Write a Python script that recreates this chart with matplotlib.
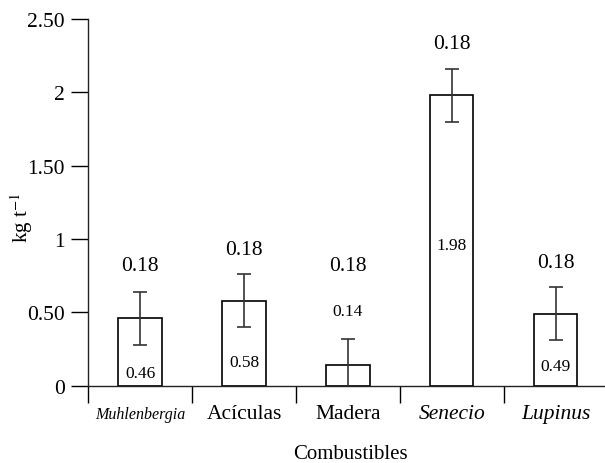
import matplotlib
matplotlib.use("Agg")
import matplotlib.pyplot as plt

plt.rcParams["font.family"] = ["Liberation Serif", "DejaVu Serif"]
plt.rcParams["mathtext.fontset"] = "stix"

# Fuel categories and emission factors (kg t^-1) with their error
categories = ["Muhlenbergia", "Acículas", "Madera", "Senecio", "Lupinus"]
italic = [True, False, False, True, True]
values = [0.46, 0.58, 0.14, 1.98, 0.49]
errors = [0.18, 0.18, 0.18, 0.18, 0.18]
yticks = [0, 0.5, 1, 1.5, 2, 2.5]
ytick_labels = ["0", "0.50", "1", "1.50", "2", "2.50"]

# vertical placement of the value annotations
value_label_y = [0.087, 0.16, 0.51, 0.96, 0.137]

fig = plt.figure(figsize=(6.05, 4.64), dpi=100)
ax = fig.add_axes([0.146, 0.1666, 0.858, 0.7904])

x = list(range(len(categories)))
ax.bar(x, values, width=0.42, color="white", edgecolor="black", linewidth=1.2, zorder=2)
ax.errorbar(x, values, yerr=errors, fmt="none", ecolor="#333333", elinewidth=1.2,
            capsize=5, capthick=1.2, zorder=3)

for xi, v, e, ly in zip(x, values, errors, value_label_y):
    ax.text(xi, ly, f"{v:.2f}", ha="center", va="center", fontsize=12.5)
    top_y = max(0.82, v + e + 0.17)
    ax.text(xi, top_y, f"{e:.2f}", ha="center", va="center", fontsize=15.5)

ax.set_xlim(-0.5, 4.5)
ax.set_ylim(0, 2.5)
ax.set_yticks(yticks)
ax.set_yticklabels(ytick_labels, fontsize=15.5)
ax.tick_params(axis="y", direction="out", length=12, width=1, pad=5)

# separator ticks between categories, labels centred on each category
ax.set_xticks([i - 0.5 for i in range(len(categories))])
ax.set_xticklabels([])
ax.tick_params(axis="x", direction="out", length=12, width=1)
for xi, name, it in zip(x, categories, italic):
    ax.text(xi, -0.19, name, ha="center", va="center",
            fontsize=11.5 if name == "Muhlenbergia" else 15.5,
            style="italic" if it else "normal",
            transform=ax.transData, clip_on=False)

ax.spines["top"].set_visible(False)
ax.spines["right"].set_visible(False)
for s in ("left", "bottom"):
    ax.spines[s].set_linewidth(1)
    ax.spines[s].set_color("#222222")

ax.set_ylabel(r"kg t$^{-1}$", fontsize=15)
ax.yaxis.set_label_coords(-0.102, 0.46)
fig.text(350 / 605, 1 - 455 / 464, "Combustibles", ha="center", va="center", fontsize=15)

fig.savefig("out.png", dpi=100)
